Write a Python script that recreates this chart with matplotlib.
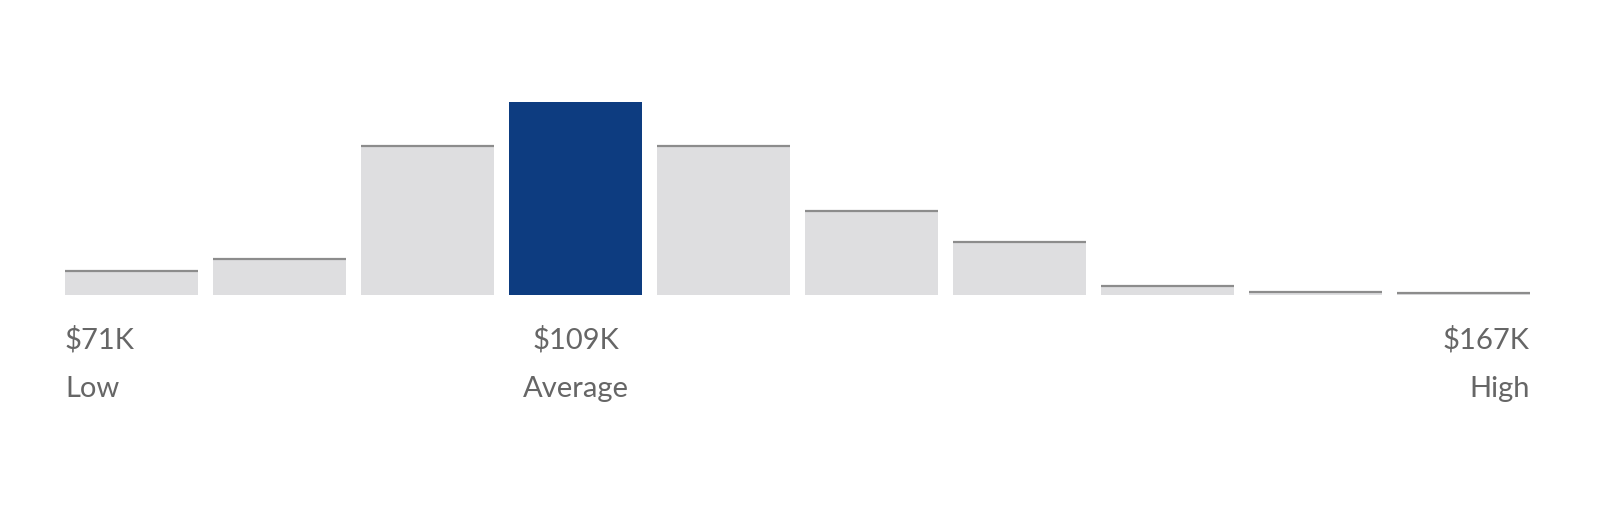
import matplotlib
matplotlib.use("Agg")
import matplotlib.pyplot as plt
from matplotlib.transforms import blended_transform_factory

# Data
bins = list(range(10))
heights = [24, 36, 149, 193, 149, 84, 53, 9, 3, 2]
highlight_index = 3
value_labels = ["$71K", "$109K", "$167K"]
name_labels = ["Low", "Average", "High"]
label_bins = [0, 3, 9]

W, H = 1600, 513
DPI = 100
fig = plt.figure(figsize=(W / DPI, H / DPI), dpi=DPI)
fig.patch.set_facecolor("white")

left_px, right_px = 65, 1530
base_px, top_px = 295, 102
ax = fig.add_axes([left_px / W, (H - base_px) / H,
                   (right_px - left_px) / W, (base_px - top_px) / H])
bw = 0.9
ax.set_xlim(-bw / 2, bins[-1] + bw / 2)
ax.set_ylim(0, max(heights))
ax.axis("off")

grey = "#dedee0"
blue = "#0d3c80"
line_c = "#8c8c8c"
colors = [blue if i == highlight_index else grey for i in bins]
ax.bar(bins, heights, width=bw, color=colors, linewidth=0, zorder=2)
for i, h in zip(bins, heights):
    if i != highlight_index:
        ax.plot([i - bw / 2, i + bw / 2], [h, h], color=line_c, lw=1.6,
                solid_capstyle="butt", zorder=3, clip_on=False)

trans = blended_transform_factory(ax.transData, fig.dpi_scale_trans)
text_c = "#666666"
aligns = ["left", "center", "right"]
for b, v, n, ha in zip(label_bins, value_labels, name_labels, aligns):
    if ha == "left":
        x = b - bw / 2
    elif ha == "right":
        x = b + bw / 2
    else:
        x = b
    ax.text(x, (H - 349) / DPI, v, transform=trans, ha=ha, va="baseline",
            fontsize=21, color=text_c, family=["Lato", "DejaVu Sans"])
    ax.text(x, (H - 397) / DPI, n, transform=trans, ha=ha, va="baseline",
            fontsize=21, color=text_c, family=["Lato", "DejaVu Sans"])

fig.savefig("out.png", dpi=DPI, facecolor="white")
